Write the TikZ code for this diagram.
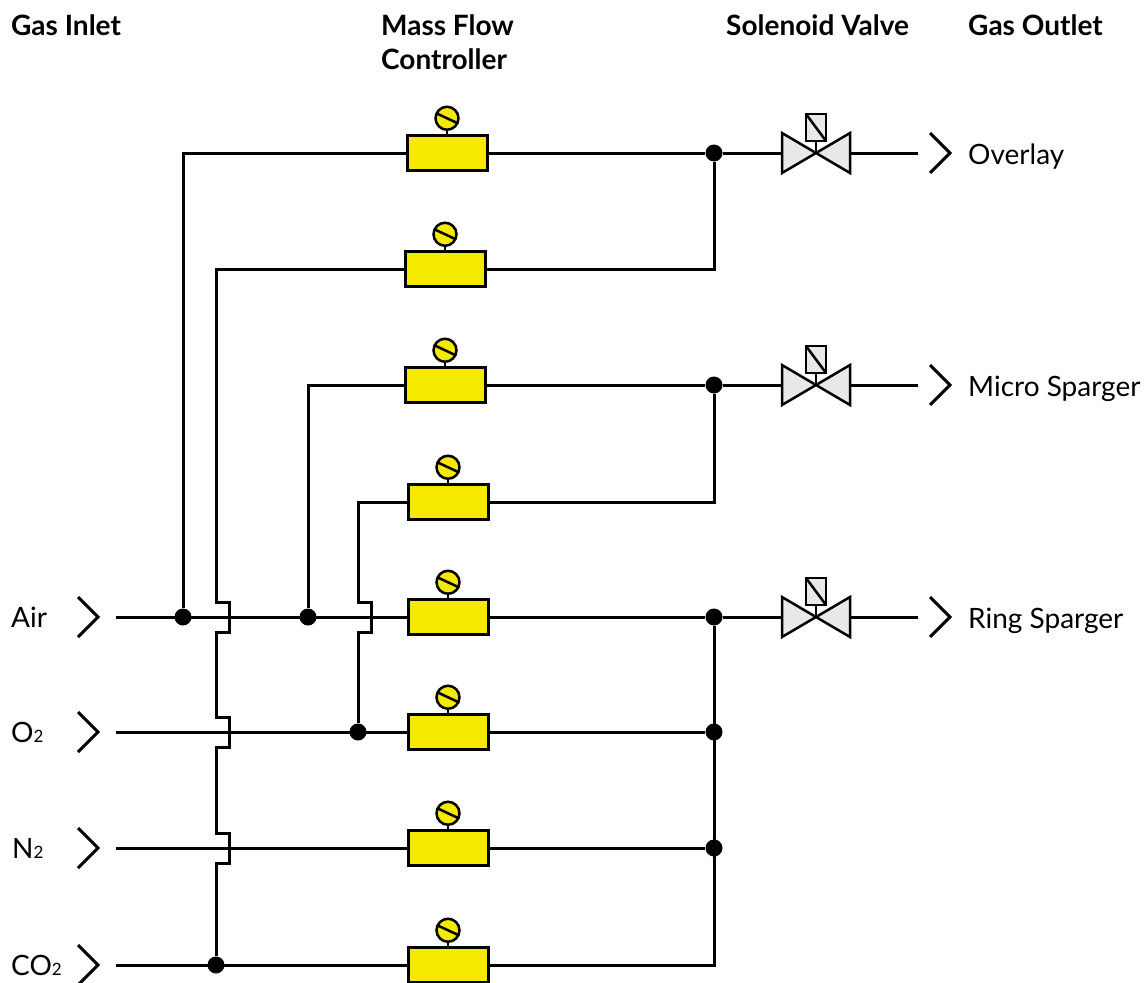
\documentclass[tikz,border=0pt]{standalone}
\usepackage{fontspec}
\setmainfont{Lato}
\usetikzlibrary{positioning}

\definecolor{mfcyellow}{HTML}{F5E900}
\definecolor{valvegray}{HTML}{E8E8E8}

\newcommand{\subtwo}{{\fontsize{17}{17}\selectfont 2}}

\tikzset{
    pipe/.style={line width=3pt, black},
    valveline/.style={line width=2.5pt, black, fill=valvegray},
    hop/.style={insert path={-- ++(13,0) -- ++(0,-30) -- ++(-13,0)}},
    junction/.style={circle, fill=black, inner sep=0pt, minimum size=17pt},
    gauge/.style={circle, draw, line width=2.5pt, fill=mfcyellow, inner sep=0pt, minimum size=23pt,
        path picture={\draw[line width=2.5pt] ([shift={(155:14pt)}]path picture bounding box.center) -- ([shift={(-25:14pt)}]path picture bounding box.center);}},
    every pin edge/.style={draw, line width=2.5pt, black},
    mfc/.style={rectangle, draw, line width=3pt, fill=mfcyellow, minimum width=80pt, minimum height=35pt,
        pin={[gauge, pin distance=3pt]90:{}}},
    heading/.style={anchor=base west, inner sep=0pt, font=\fontsize{28}{33}\selectfont\bfseries},
    gasname/.style={anchor=base west, inner sep=0pt, font=\fontsize{28}{32}\selectfont},
    valve/.pic={
        \filldraw[valveline] (-34,-20) -- (0,0) -- (-34,20) -- cycle;
        \filldraw[valveline] (34,-20) -- (0,0) -- (34,20) -- cycle;
        \draw[valveline] (0,0) -- (0,-12);
        \filldraw[valveline] (-10,-39) rectangle (10,-12);
        \draw[valveline] (-10,-39) -- (10,-12);
        \coordinate (-in) at (-34,0);
        \coordinate (-out) at (34,0);
    },
    chevron/.pic={\draw[pipe] (-10,-20) -- (10,0) -- (-10,20);}
}

\begin{document}
\begin{tikzpicture}[x=1pt, y=-1pt]
    \clip (0,0) rectangle (1147,982);

    % column headings
    \node[heading] (hin) at (11,36) {Gas Inlet};
    \node[heading, align=left] (hmfc) at (381,69) {Mass Flow\\Controller};
    \node[heading] (hvalve) at (726,36) {Solenoid Valve};
    \node[heading] (hout) at (968,36) {Gas Outlet};

    % mass flow controllers
    \node[mfc] (m1) at (447,153) {};
    \node[mfc] (m2) at (445,269) {};
    \node[mfc] (m3) at (445,385) {};
    \node[mfc] (m4) at (448,502) {};
    \node[mfc] (m5) at (448,617) {};
    \node[mfc] (m6) at (448,732) {};
    \node[mfc] (m7) at (448,848) {};
    \node[mfc] (m8) at (448,965) {};

    % inlets
    \node[gasname] (lair) at (11,627) {Air};
    \node[gasname] (lo2) at (11,742) {O\subtwo};
    \node[gasname] (ln2) at (12,858) {N\subtwo};
    \node[gasname] (lco2) at (11,975) {CO\subtwo};
    \pic at (88,617) {chevron};
    \pic at (88,732) {chevron};
    \pic at (88,848) {chevron};
    \pic at (88,965) {chevron};
    \coordinate (air) at (116,617);
    \coordinate (o2) at (116,732);
    \coordinate (n2) at (116,848);
    \coordinate (co2) at (116,965);

    % junctions
    \node[junction] (j1) at (183,617) {};
    \node[junction] (j3) at (308,617) {};
    \node[junction] (j6) at (358,732) {};
    \node[junction] (j8) at (216,965) {};
    \node[junction] (k1) at (714,153) {};
    \node[junction] (k3) at (714,385) {};
    \node[junction] (k5) at (714,617) {};
    \node[junction] (k6) at (714,732) {};
    \node[junction] (k7) at (714,848) {};

    % solenoid valves and outlets
    \pic (v1) at (816,153) {valve};
    \pic (v3) at (816,385) {valve};
    \pic (v5) at (816,617) {valve};
    \coordinate (o1) at (918,153);
    \coordinate (o3) at (918,385);
    \coordinate (o5) at (918,617);
    \pic at (940,153) {chevron};
    \pic at (940,385) {chevron};
    \pic at (940,617) {chevron};
    \node[gasname] (overlay) at (968,164) {Overlay};
    \node[gasname] (micro) at (968,396) {Micro Sparger};
    \node[gasname] (ring) at (968,628) {Ring Sparger};

    % inlet lines
    \draw[pipe] (air) -- (m5);
    \draw[pipe] (o2) -- (m6);
    \draw[pipe] (n2) -- (m7);
    \draw[pipe] (co2) -- (m8);

    % risers
    \draw[pipe] (j1) |- (m1);
    \draw[pipe] (j3) |- (m3);
    \draw[pipe] (j6) -- (358,632) [hop] |- (m4);
    \draw[pipe] (j8) -- (216,863) [hop] -- (216,747) [hop] -- (216,632) [hop] |- (m2);

    % outlet side
    \draw[pipe] (m1) -- (k1) -- (v1-in);
    \draw[pipe] (m2) -| (k1);
    \draw[pipe] (m3) -- (k3) -- (v3-in);
    \draw[pipe] (m4) -| (k3);
    \draw[pipe] (m5) -- (k5) -- (v5-in);
    \draw[pipe] (m6) -- (k6);
    \draw[pipe] (m7) -- (k7);
    \draw[pipe] (m8) -| (k5);
    \draw[pipe] (v1-out) -- (o1);
    \draw[pipe] (v3-out) -- (o3);
    \draw[pipe] (v5-out) -- (o5);
\end{tikzpicture}
\end{document}
